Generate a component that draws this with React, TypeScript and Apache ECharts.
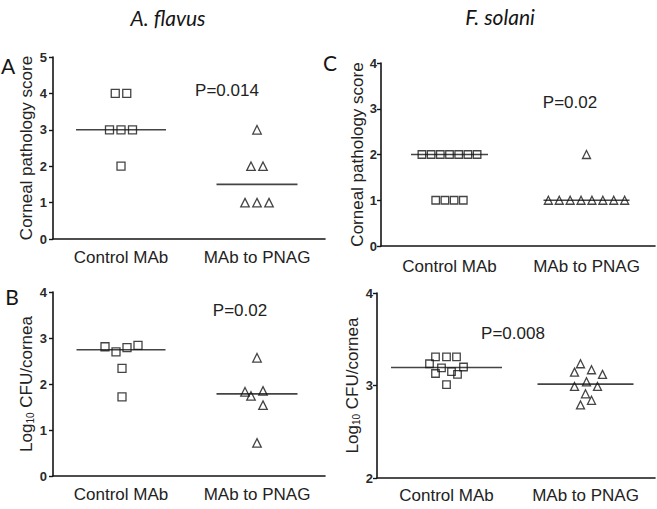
import React, { useEffect, useRef } from "react";
import * as echarts from "echarts";

const categories = ["Control MAb", "MAb to PNAG"];
const organismTitles = ["A. flavus", "F. solani"];
const panelLetters = ["A", "B", "C"];
const pValueLabels = ["P=0.014", "P=0.02", "P=0.02", "P=0.008"];
const scoreAxisName = "Corneal pathology score";

// Panel A – corneal pathology score, A. flavus
const aControl = [4, 4, 3, 3, 3, 2];
const aPnag = [3, 2, 2, 1, 1, 1];
// Panel B – log10 CFU/cornea, A. flavus
const bControl = [2.81, 2.7, 2.79, 2.84, 2.34, 1.72];
const bPnag = [2.57, 1.83, 1.74, 1.85, 1.54, 0.72];
// Panel C – corneal pathology score, F. solani
const cControl = [2, 2, 2, 2, 2, 2, 2, 1, 1, 1, 1];
const cPnag = [2, 1, 1, 1, 1, 1, 1, 1, 1];
// Panel D – log10 CFU/cornea, F. solani
const dControl = [3.31, 3.31, 3.31, 3.235, 3.19, 3.2, 3.13, 3.15, 3.12, 3.01];
const dPnag = [3.235, 3.145, 3.17, 3.12, 2.99, 3.04, 2.99, 2.91, 2.84, 2.79];

// horizontal scatter (jitter) of the points, in pixels
const bControlJitter = [-16, -5, 6, 17, 1, 1];
const bPnagJitter = [0, -12, -6, 6, 6, 0];
const dControlJitter = [-11, 0, 10, -17, -5, 17, -11, 5, 11, 0];
const dPnagJitter = [-5, -11, 6, 17, -11, 1, 12, 0, 6, -5];

function median(arr: number[]) {
  const s = [...arr].sort((a, b) => a - b);
  const n = s.length;
  return n % 2 ? s[(n - 1) / 2] : (s[n / 2 - 1] + s[n / 2]) / 2;
}

function swarm(values: number[], spacing: number) {
  const counts: Record<string, number> = {};
  values.forEach((v) => (counts[v] = (counts[v] || 0) + 1));
  const seen: Record<string, number> = {};
  return values.map((v) => {
    const k = seen[v] || 0;
    seen[v] = k + 1;
    return (k - (counts[v] - 1) / 2) * spacing;
  });
}

const INK = "#151515";
const FONT = "'Liberation Sans', Arial, sans-serif";

type Panel = {
  grid: { left: number; top: number; width: number; height: number };
  min: number;
  max: number;
  name: string;
  ctrl: number[];
  ctrlOff: number[];
  pnag: number[];
  pnagOff: number[];
  ctrlW: number;
  pnagW: number;
  labelMargin: number;
  nameGap: number;
  tickMargin: number;
  sym: number;
};

const logName = "{a|Log}{s|10}{a| CFU/cornea}";

const panels: Panel[] = [
  {
    grid: { left: 53, top: 57, width: 272, height: 182 },
    min: 0, max: 5, name: scoreAxisName,
    ctrl: aControl, ctrlOff: swarm(aControl, 11.5),
    pnag: aPnag, pnagOff: swarm(aPnag, 12),
    ctrlW: 90, pnagW: 81, labelMargin: 10, nameGap: 18, tickMargin: 6, sym: 8,
  },
  {
    grid: { left: 53, top: 292, width: 272, height: 184 },
    min: 0, max: 4, name: logName,
    ctrl: bControl, ctrlOff: bControlJitter,
    pnag: bPnag, pnagOff: bPnagJitter,
    ctrlW: 89, pnagW: 81, labelMargin: 10, nameGap: 18, tickMargin: 6, sym: 8,
  },
  {
    grid: { left: 381, top: 63, width: 274, height: 183 },
    min: 0, max: 4, name: scoreAxisName,
    ctrl: cControl, ctrlOff: swarm(cControl, 9.2),
    pnag: cPnag, pnagOff: swarm(cPnag, 10.9),
    ctrlW: 77, pnagW: 86, labelMargin: 12, nameGap: 14, tickMargin: 4, sym: 7.5,
  },
  {
    grid: { left: 377, top: 293, width: 278, height: 185 },
    min: 2, max: 4, name: logName,
    ctrl: dControl, ctrlOff: dControlJitter,
    pnag: dPnag, pnagOff: dPnagJitter,
    ctrlW: 111, pnagW: 96, labelMargin: 9, nameGap: 14, tickMargin: 4, sym: 7.5,
  },
];

const pPositions = [
  [227, 90],
  [240, 310],
  [570, 102],
  [513, 333],
];

export default function App() {
  const ref = useRef<HTMLDivElement>(null);
  useEffect(() => {
    if (!ref.current) return;
    const chart = echarts.init(ref.current, undefined, { renderer: "svg" });
    const series: any[] = [];
    panels.forEach((p, i) => {
      const base = { type: "scatter", xAxisIndex: i, yAxisIndex: i, silent: true };
      series.push({
        ...base,
        symbol: "rect",
        symbolSize: p.sym,
        itemStyle: { color: "rgba(0,0,0,0)", borderColor: INK, borderWidth: 1.3 },
        data: p.ctrl.map((v, k) => ({ value: [0, v], symbolOffset: [p.ctrlOff[k], 0] })),
        z: 3,
      });
      series.push({
        ...base,
        symbol: "triangle",
        symbolSize: p.sym + 0.5,
        itemStyle: { color: "rgba(0,0,0,0)", borderColor: INK, borderWidth: 1.3 },
        data: p.pnag.map((v, k) => ({ value: [1, v], symbolOffset: [p.pnagOff[k], 0] })),
        z: 3,
      });
      series.push({
        ...base,
        symbol: "rect",
        symbolSize: [p.ctrlW, 1.6],
        itemStyle: { color: INK },
        data: [[0, median(p.ctrl)]],
        z: 2,
      });
      series.push({
        ...base,
        symbol: "rect",
        symbolSize: [p.pnagW, 1.6],
        itemStyle: { color: INK },
        data: [[1, median(p.pnag)]],
        z: 2,
      });
    });

    const graphics: any[] = [];
    graphics.push({
      type: "text", x: 168, y: 17,
      style: { text: organismTitles[0], font: "italic 21px Lato, 'Open Sans', sans-serif", fill: INK, align: "center", verticalAlign: "middle" },
    });
    graphics.push({
      type: "text", x: 500, y: 16,
      style: { text: organismTitles[1], font: "italic 21px Lato, 'Open Sans', sans-serif", fill: INK, align: "center", verticalAlign: "middle" },
    });
    const letterPos = [
      [8, 65],
      [12, 296],
      [330, 62],
    ];
    panelLetters.forEach((l, i) => {
      graphics.push({
        type: "text", x: letterPos[i][0], y: letterPos[i][1],
        style: { text: l, font: "21px Lato, 'Open Sans', sans-serif", fill: INK, align: "center", verticalAlign: "middle" },
      });
    });
    pValueLabels.forEach((t, i) => {
      graphics.push({
        type: "text", x: pPositions[i][0], y: pPositions[i][1],
        style: { text: t, font: `17px ${FONT}`, fill: "#222", align: "center", verticalAlign: "middle" },
      });
    });

    chart.setOption({
      animation: false,
      backgroundColor: "#fff",
      grid: panels.map((p) => ({ ...p.grid, containLabel: false })),
      xAxis: panels.map((p, i) => ({
        type: "category",
        gridIndex: i,
        data: categories,
        boundaryGap: true,
        axisLine: { lineStyle: { color: INK, width: 1.6 } },
        axisTick: { alignWithLabel: true, length: 5, lineStyle: { color: INK, width: 1.6 } },
        axisLabel: { interval: 0, hideOverlap: false, fontSize: 17, color: "#222", fontFamily: FONT, margin: p.labelMargin },
        splitLine: { show: false },
      })),
      yAxis: panels.map((p, i) => ({
        type: "value",
        gridIndex: i,
        min: p.min,
        max: p.max,
        interval: 1,
        name: p.name,
        nameLocation: "middle",
        nameGap: p.nameGap,
        nameTextStyle: {
          fontSize: 17,
          color: "#222",
          fontFamily: FONT,
          rich: {
            a: { fontSize: 17, color: "#222", fontFamily: FONT },
            s: { fontSize: 10, color: "#222", fontFamily: FONT, padding: [8, 0, 0, 0] },
          },
        },
        axisLine: { show: true, lineStyle: { color: INK, width: 1.6 } },
        axisTick: { show: true, length: 4, lineStyle: { color: INK, width: 1.4 } },
        axisLabel: { fontSize: 13, fontWeight: "bold", color: "#2a2a2a", fontFamily: FONT, margin: p.tickMargin },
        splitLine: { show: false },
      })),
      series,
      graphic: graphics,
    });
    return () => chart.dispose();
  }, []);
  return (
    <div
      ref={ref}
      style={{ position: "fixed", left: 0, top: 0, width: 657, height: 509, background: "#fff" }}
    />
  );
}
